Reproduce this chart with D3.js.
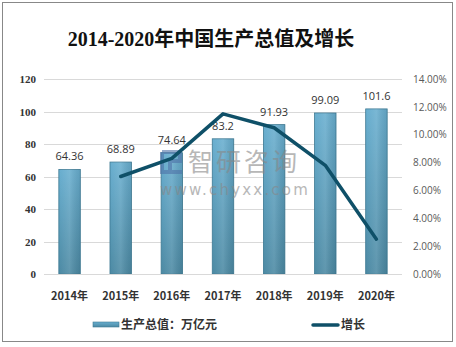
<!DOCTYPE html>
<html><head><meta charset="utf-8">
<script src="https://cdn.jsdelivr.net/npm/d3@7"></script>
<style>body{margin:0;background:#fff;}svg{display:block;}</style>
</head><body>
<script>
const years = ["2014年","2015年","2016年","2017年","2018年","2019年","2020年"];
const output = [64.36, 68.89, 74.64, 83.2, 91.93, 99.09, 101.6];
const growth = [null, 7.0, 8.3, 11.5, 10.5, 7.8, 2.5];
const leftTicks = [0,20,40,60,80,100,120];
const rightTicks = [0,2,4,6,8,10,12,14];
const title = "2014-2020年中国生产总值及增长";
const legendBar = "生产总值：万亿元";
const legendLine = "增长";

const W=456,H=347;
const svg=d3.select("body").append("svg").attr("width",W).attr("height",H);
const defs=svg.append("defs");
const g=defs.append("linearGradient").attr("id","bg").attr("x1",0).attr("y1",0).attr("x2",0).attr("y2",1);
g.append("stop").attr("offset","0%").attr("stop-color","#68aecf");
g.append("stop").attr("offset","100%").attr("stop-color","#4b89a3");
const gh=defs.append("linearGradient").attr("id","bh").attr("x1",0).attr("y1",0).attr("x2",1).attr("y2",0);
gh.append("stop").attr("offset","0%").attr("stop-color","#ffffff").attr("stop-opacity",0.0);
gh.append("stop").attr("offset","50%").attr("stop-color","#ffffff").attr("stop-opacity",0.12);
gh.append("stop").attr("offset","100%").attr("stop-color","#000000").attr("stop-opacity",0.08);

svg.append("rect").attr("x",2.5).attr("y",2.5).attr("width",450).attr("height",339)
  .attr("fill","#fff").attr("stroke","#888").attr("stroke-width",1);

svg.append("text").attr("x",211).attr("y",46).attr("text-anchor","middle")
  .attr("font-family","'Liberation Serif','Noto Sans CJK SC',serif").attr("font-weight","bold")
  .attr("font-size",20).attr("fill","#111").text(title);

const x=d3.scaleBand().domain(years).range([44,402]).paddingInner(0.58).paddingOuter(0.29);
const y=d3.scaleLinear().domain([0,120]).range([274,79]);
const y2=d3.scaleLinear().domain([0,14]).range([274,79]);

// gridlines
svg.append("g").selectAll("line").data(leftTicks).join("line")
  .attr("x1",44).attr("x2",402).attr("y1",d=>Math.round(y(d))+0.5).attr("y2",d=>Math.round(y(d))+0.5)
  .attr("stroke","#d9d9d9").attr("stroke-width",1);

// left axis
const la=svg.append("g").attr("transform","translate(44,0)").call(d3.axisLeft(y).tickValues(leftTicks).tickSize(0).tickPadding(8));
la.select(".domain").remove();
la.selectAll("text").attr("font-family","'Liberation Serif',serif").attr("font-weight","bold").attr("font-size",11).attr("fill","#333");

// right axis
const ra=svg.append("g").attr("transform","translate(402,0)").call(d3.axisRight(y2).tickValues(rightTicks).tickSize(0).tickPadding(11).tickFormat(d=>d.toFixed(2)+"%"));
ra.select(".domain").remove();
ra.selectAll("text").attr("font-family","'Open Sans','Noto Sans',sans-serif").attr("font-size",10).attr("fill","#595959");

// bars
const bars=svg.append("g");
bars.selectAll("rect.b").data(output).join("rect").attr("class","b")
  .attr("x",(d,i)=>x(years[i])).attr("width",x.bandwidth())
  .attr("y",d=>y(d)).attr("height",d=>y(0)-y(d))
  .attr("fill","url(#bg)").attr("stroke","#3f7a93").attr("stroke-width",0.8);
bars.selectAll("rect.h").data(output).join("rect").attr("class","h")
  .attr("x",(d,i)=>x(years[i])).attr("width",x.bandwidth())
  .attr("y",d=>y(d)).attr("height",d=>y(0)-y(d)).attr("fill","url(#bh)");

// baseline
svg.append("line").attr("x1",44).attr("x2",402).attr("y1",274.5).attr("y2",274.5).attr("stroke","#d9d9d9");

// watermark
const wm=svg.append("g").attr("opacity",0.6);
wm.append("path").attr("d","M162,152 h18 v9 h-10 v10 M162,152 v20 h20").attr("fill","none").attr("stroke","#4f73a8").attr("stroke-width",4);
wm.append("text").attr("x",188).attr("y",171).attr("font-family","'Noto Sans CJK SC',sans-serif").attr("font-size",25).attr("letter-spacing",3).attr("fill","#888").text("智研咨询");
wm.append("text").attr("x",160).attr("y",195).attr("font-family","'DejaVu Sans',sans-serif").attr("font-size",15).attr("letter-spacing",2.2).attr("fill","#888").text("www.chyxx.com");

// value labels
svg.append("g").selectAll("text").data(output).join("text")
  .attr("x",(d,i)=>x(years[i])+x.bandwidth()/2).attr("y",d=>y(d)-9)
  .attr("text-anchor","middle").attr("font-family","'Open Sans','Noto Sans',sans-serif").attr("font-size",11)
  .attr("fill","#333").text(d=>d);

// line
const pts=growth.map((v,i)=>[x(years[i])+x.bandwidth()/2,v]).filter(p=>p[1]!==null);
svg.append("path").datum(pts).attr("d",d3.line().x(p=>p[0]).y(p=>y2(p[1])))
  .attr("fill","none").attr("stroke","#0f5068").attr("stroke-width",3.5).attr("stroke-linejoin","round").attr("stroke-linecap","round");

// x labels
svg.append("g").selectAll("text").data(years).join("text")
  .attr("x",d=>x(d)+x.bandwidth()/2).attr("y",300).attr("text-anchor","middle")
  .attr("font-family","'Noto Sans CJK SC',sans-serif").attr("font-weight","bold").attr("font-size",11)
  .attr("fill","#333").text(d=>d);

// legend
svg.append("rect").attr("x",93).attr("y",322).attr("width",26).attr("height",5).attr("fill","url(#bg)").attr("stroke","#3f7a93").attr("stroke-width",0.6);
svg.append("text").attr("x",121).attr("y",329).attr("font-family","'Noto Sans CJK SC',sans-serif").attr("font-weight","bold").attr("font-size",12).attr("fill","#333").text(legendBar);
svg.append("line").attr("x1",313).attr("x2",338).attr("y1",325).attr("y2",325).attr("stroke","#0f5068").attr("stroke-width",3.5).attr("stroke-linecap","round");
svg.append("text").attr("x",341).attr("y",329).attr("font-family","'Noto Sans CJK SC',sans-serif").attr("font-weight","bold").attr("font-size",12).attr("fill","#333").text(legendLine);
</script>
</body></html>
